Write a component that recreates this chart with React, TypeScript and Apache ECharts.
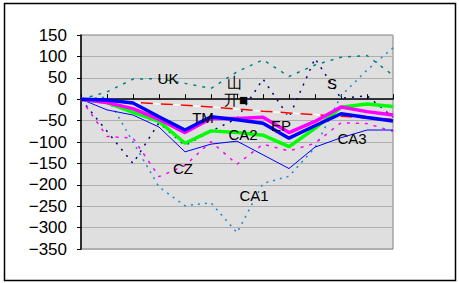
import React, { useEffect, useRef } from "react";
import * as echarts from "echarts";

const categories = ["0", "1", "2", "3", "4", "5", "6", "7", "8", "9", "10", "11", "12"];

const thickBlue = [0, -2, -9, -41, -72, -41, -48, -56, -91, -62, -34, -43, -51];
const thickMagenta = [0, -8, -22, -47, -78, -45, -45, -42, -78, -52, -18, -29, -37];
const thickGreen = [0, -8, -31, -52, -103, -74, -78, -84, -111, -68, -19, -11, -17];
const redDashed = [0, -3, -7, -11, -14, -18, -23, -28, -32, -36, -40, -44, -47];
const ukTeal = [0, 17, 47, 48, 37, 25, 64, 92, 53, 80, 98, 102, 56];
const ca1 = [0, 5, -100, -205, -249, -242, -312, -197, -180, -113, 8, 68, 120];
const navyDotted = [0, -75, -150, -55, -108, -75, -45, 47, -42, 95, 2, 8, -42];
const thinBlue = [0, -25, -37, -65, -123, -105, -98, -130, -162, -112, -90, -72, -72];
const czMagenta = [0, -87, -91, -181, -155, -99, -152, -105, -121, -103, -55, -57, -75];

const yMin = -350;
const yMax = 150;
const yStep = 50;

const labels = [
  { text: "UK", x: 168, y: 78 },
  { text: "山", x: 234, y: 82 },
  { text: "丌■", x: 236, y: 99 },
  { text: "TM", x: 203, y: 117 },
  { text: "CA2", x: 243, y: 134 },
  { text: "EP", x: 281, y: 125 },
  { text: "S", x: 332, y: 83 },
  { text: "CZ", x: 183, y: 168 },
  { text: "CA1", x: 254, y: 195 },
  { text: "CA3", x: 352, y: 138 },
];

export default function App() {
  const ref = useRef<HTMLDivElement>(null);
  useEffect(() => {
    if (!ref.current) return;
    const chart = echarts.init(ref.current, undefined, { renderer: "svg" });
    const line = (data: number[], color: string, width: number, type: any, z = 2) => ({
      type: "line",
      data,
      symbol: "none",
      z,
      lineStyle: { color, width, type },
      emphasis: { disabled: true },
    });
    chart.setOption({
      animation: false,
      grid: {
        left: 81,
        right: 66,
        top: 35,
        bottom: 34,
        show: true,
        backgroundColor: "#dfdfdf",
        borderColor: "#808080",
        borderWidth: 1,
      },
      xAxis: {
        type: "category",
        data: categories,
        boundaryGap: false,
        axisLine: { onZero: true, lineStyle: { color: "#000", width: 1.5 } },
        axisTick: { show: true, inside: true, length: 5, lineStyle: { color: "#000" } },
        axisLabel: { show: false },
        splitLine: { show: false },
      },
      yAxis: {
        type: "value",
        min: yMin,
        max: yMax,
        interval: yStep,
        axisLine: { show: true, lineStyle: { color: "#000", width: 1.5 } },
        axisTick: { show: true, length: 4, lineStyle: { color: "#000" } },
        axisLabel: {
          color: "#000",
          fontSize: 17,
          fontFamily: "Liberation Sans",
          margin: 14,
          formatter: (v: number) => String(v).replace("-", "\u2212"),
        },
        splitLine: { show: true, lineStyle: { color: "#b0b0b0", width: 1 } },
      },
      series: [
        line(ca1, "#1a8ad0", 1.5, [2, 5]),
        line(navyDotted, "#000080", 1.5, [2, 6]),
        line(ukTeal, "#008080", 1.5, [3, 6]),
        line(czMagenta, "#ff00ff", 1.5, [3, 6]),
        line(thinBlue, "#0000ff", 1, "solid"),
        line(redDashed, "#ffffff", 1.5, "solid"),
        line(redDashed, "#ff0000", 1.5, [12, 8]),
        line(thickGreen, "#00ff00", 3.5, "solid", 3),
        line(thickMagenta, "#ff00ff", 3.5, "solid", 3),
        line(thickBlue, "#0000ff", 3.5, "solid", 4),
      ],
      graphic: [
        {
          type: "rect",
          shape: { x: 4.5, y: 3.5, width: 451, height: 277 },
          style: { fill: "none", stroke: "#000", lineWidth: 1.5 },
          silent: true,
          z: -10,
        },
        ...labels.map((l) => ({
          type: "text",
          x: l.x,
          y: l.y,
          z: 100,
          style: {
            text: l.text,
            fill: "#000",
            fontSize: 15,
            fontFamily: "Liberation Sans",
            textAlign: "center",
            textVerticalAlign: "middle",
          },
        })),
      ],
    });
    return () => chart.dispose();
  }, []);
  return (
    <div
      ref={ref}
      style={{ position: "absolute", left: 0, top: 0, width: 459, height: 283, background: "#fff" }}
    />
  );
}
